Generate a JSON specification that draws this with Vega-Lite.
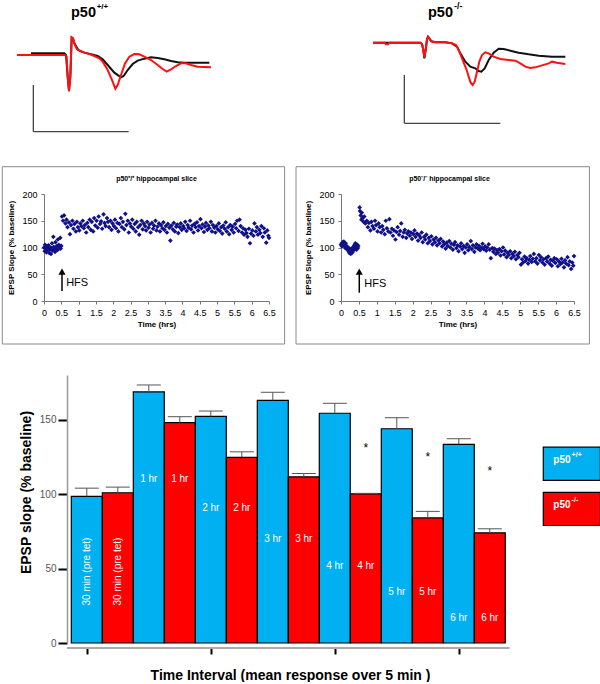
{
"$schema":"https://vega.github.io/schema/vega-lite/v6.json",
"background":"white",
"padding":{"left":1,"top":0,"right":0,"bottom":0},
"config":{"font":"Liberation Sans","view":{"stroke":null},"axis":{"grid":false,"labelFont":"Liberation Sans","titleFont":"Liberation Sans","titleColor":"black","labelOverlap":false},"title":{"font":"Liberation Sans"},"text":{"font":"Liberation Sans"}},
"datasets":{
"traceL":[
{"c":"k","t":90,"v":-160},{"c":"k","t":190,"v":-160},{"c":"k","t":195,"v":-165},{"c":"k","t":200,"v":-230},{"c":"k","t":204,"v":-272},{"c":"k","t":208,"v":-230},{"c":"k","t":212,"v":-112},{"c":"k","t":216,"v":-115},{"c":"k","t":220,"v":-130},{"c":"k","t":232,"v":-150},{"c":"k","t":250,"v":-158},{"c":"k","t":270,"v":-163},{"c":"k","t":290,"v":-168},{"c":"k","t":305,"v":-178},{"c":"k","t":320,"v":-195},{"c":"k","t":340,"v":-218},{"c":"k","t":360,"v":-232},{"c":"k","t":368,"v":-228},{"c":"k","t":380,"v":-210},{"c":"k","t":395,"v":-192},{"c":"k","t":410,"v":-182},{"c":"k","t":430,"v":-176},{"c":"k","t":450,"v":-172},{"c":"k","t":470,"v":-174},{"c":"k","t":490,"v":-178},{"c":"k","t":510,"v":-183},{"c":"k","t":530,"v":-187},{"c":"k","t":550,"v":-188},{"c":"k","t":590,"v":-188},{"c":"k","t":625,"v":-188},
{"c":"r","t":48,"v":-165},{"c":"r","t":192,"v":-165},{"c":"r","t":197,"v":-170},{"c":"r","t":200,"v":-230},{"c":"r","t":204,"v":-274},{"c":"r","t":208,"v":-230},{"c":"r","t":212,"v":-112},{"c":"r","t":216,"v":-115},{"c":"r","t":220,"v":-130},{"c":"r","t":228,"v":-148},{"c":"r","t":240,"v":-155},{"c":"r","t":260,"v":-160},{"c":"r","t":280,"v":-168},{"c":"r","t":295,"v":-175},{"c":"r","t":305,"v":-185},{"c":"r","t":320,"v":-210},{"c":"r","t":335,"v":-245},{"c":"r","t":343,"v":-266},{"c":"r","t":350,"v":-255},{"c":"r","t":360,"v":-225},{"c":"r","t":372,"v":-190},{"c":"r","t":385,"v":-170},{"c":"r","t":400,"v":-162},{"c":"r","t":415,"v":-163},{"c":"r","t":430,"v":-170},{"c":"r","t":450,"v":-180},{"c":"r","t":470,"v":-195},{"c":"r","t":485,"v":-207},{"c":"r","t":497,"v":-215},{"c":"r","t":510,"v":-208},{"c":"r","t":525,"v":-198},{"c":"r","t":540,"v":-190},{"c":"r","t":555,"v":-190},{"c":"r","t":570,"v":-195},{"c":"r","t":590,"v":-200},{"c":"r","t":630,"v":-202}],
"traceR":[
{"c":"k","t":213,"v":-128},{"c":"k","t":355,"v":-128},{"c":"k","t":360,"v":-132},{"c":"k","t":364,"v":-150},{"c":"k","t":367,"v":-175},{"c":"k","t":371,"v":-150},{"c":"k","t":375,"v":-118},{"c":"k","t":378,"v":-110},{"c":"k","t":382,"v":-115},{"c":"k","t":388,"v":-124},{"c":"k","t":400,"v":-127},{"c":"k","t":430,"v":-127},{"c":"k","t":450,"v":-130},{"c":"k","t":465,"v":-140},{"c":"k","t":475,"v":-160},{"c":"k","t":490,"v":-185},{"c":"k","t":505,"v":-200},{"c":"k","t":520,"v":-205},{"c":"k","t":530,"v":-213},{"c":"k","t":538,"v":-215},{"c":"k","t":548,"v":-205},{"c":"k","t":560,"v":-180},{"c":"k","t":575,"v":-158},{"c":"k","t":590,"v":-146},{"c":"k","t":605,"v":-147},{"c":"k","t":625,"v":-152},{"c":"k","t":650,"v":-158},{"c":"k","t":680,"v":-163},{"c":"k","t":710,"v":-167},{"c":"k","t":750,"v":-170},{"c":"k","t":790,"v":-170},
{"c":"r","t":213,"v":-128},{"c":"r","t":248,"v":-128},{"c":"r","t":252,"v":-133},{"c":"r","t":258,"v":-133},{"c":"r","t":262,"v":-128},{"c":"r","t":355,"v":-128},{"c":"r","t":360,"v":-132},{"c":"r","t":364,"v":-150},{"c":"r","t":367,"v":-172},{"c":"r","t":371,"v":-150},{"c":"r","t":375,"v":-118},{"c":"r","t":378,"v":-110},{"c":"r","t":382,"v":-115},{"c":"r","t":388,"v":-124},{"c":"r","t":400,"v":-127},{"c":"r","t":430,"v":-127},{"c":"r","t":450,"v":-130},{"c":"r","t":462,"v":-135},{"c":"r","t":470,"v":-150},{"c":"r","t":478,"v":-170},{"c":"r","t":486,"v":-190},{"c":"r","t":494,"v":-210},{"c":"r","t":500,"v":-230},{"c":"r","t":506,"v":-248},{"c":"r","t":512,"v":-255},{"c":"r","t":518,"v":-245},{"c":"r","t":524,"v":-220},{"c":"r","t":532,"v":-185},{"c":"r","t":540,"v":-165},{"c":"r","t":550,"v":-157},{"c":"r","t":560,"v":-160},{"c":"r","t":575,"v":-170},{"c":"r","t":595,"v":-177},{"c":"r","t":620,"v":-180},{"c":"r","t":640,"v":-182},{"c":"r","t":655,"v":-190},{"c":"r","t":670,"v":-200},{"c":"r","t":685,"v":-204},{"c":"r","t":700,"v":-202},{"c":"r","t":720,"v":-196},{"c":"r","t":740,"v":-190},{"c":"r","t":750,"v":-185},{"c":"r","t":765,"v":-188},{"c":"r","t":790,"v":-192}],
"wt":[
{"t":0,"v":100},{"t":0.02,"v":93},{"t":0.03,"v":105},{"t":0.05,"v":97},{"t":0.07,"v":91},{"t":0.08,"v":102},{"t":0.1,"v":95},{"t":0.12,"v":98},{"t":0.13,"v":104},{"t":0.15,"v":90},{"t":0.17,"v":96},{"t":0.18,"v":100},{"t":0.2,"v":88},{"t":0.22,"v":99},{"t":0.23,"v":108},{"t":0.25,"v":94},{"t":0.27,"v":120},{"t":0.28,"v":101},{"t":0.3,"v":96},{"t":0.32,"v":92},{"t":0.33,"v":110},{"t":0.35,"v":99},{"t":0.37,"v":103},{"t":0.38,"v":95},{"t":0.4,"v":115},{"t":0.42,"v":97},{"t":0.43,"v":105},{"t":0.45,"v":100},{"t":0.47,"v":118},{"t":0.48,"v":98},{"t":0.5,"v":103},
{"t":0.52,"v":158},{"t":0.55,"v":150},{"t":0.58,"v":160},{"t":0.62,"v":145},{"t":0.65,"v":152},{"t":0.68,"v":138},{"t":0.72,"v":147},{"t":0.75,"v":125},{"t":0.78,"v":142},{"t":0.82,"v":150},{"t":0.85,"v":135},{"t":0.88,"v":144},{"t":0.92,"v":130},{"t":0.95,"v":148},{"t":0.98,"v":138},
{"t":1.02,"v":132},{"t":1.05,"v":145},{"t":1.08,"v":140},{"t":1.12,"v":150},{"t":1.15,"v":136},{"t":1.18,"v":142},{"t":1.22,"v":128},{"t":1.25,"v":146},{"t":1.28,"v":138},{"t":1.32,"v":152},{"t":1.35,"v":133},{"t":1.38,"v":148},{"t":1.42,"v":130},{"t":1.45,"v":155},{"t":1.48,"v":141},{"t":1.52,"v":150},{"t":1.55,"v":137},{"t":1.58,"v":158},{"t":1.62,"v":144},{"t":1.65,"v":149},{"t":1.68,"v":135},{"t":1.72,"v":162},{"t":1.75,"v":146},{"t":1.78,"v":140},{"t":1.82,"v":155},{"t":1.85,"v":148},{"t":1.88,"v":138},{"t":1.92,"v":150},{"t":1.95,"v":133},{"t":1.98,"v":145},
{"t":2.02,"v":140},{"t":2.05,"v":152},{"t":2.08,"v":136},{"t":2.12,"v":146},{"t":2.15,"v":130},{"t":2.18,"v":144},{"t":2.22,"v":155},{"t":2.25,"v":138},{"t":2.28,"v":148},{"t":2.32,"v":134},{"t":2.35,"v":163},{"t":2.38,"v":142},{"t":2.42,"v":150},{"t":2.45,"v":128},{"t":2.48,"v":145},{"t":2.52,"v":139},{"t":2.55,"v":152},{"t":2.58,"v":135},{"t":2.62,"v":144},{"t":2.65,"v":130},{"t":2.68,"v":148},{"t":2.72,"v":138},{"t":2.75,"v":124},{"t":2.78,"v":142},{"t":2.82,"v":150},{"t":2.85,"v":134},{"t":2.88,"v":145},{"t":2.92,"v":140},{"t":2.95,"v":132},{"t":2.98,"v":148},
{"t":3.02,"v":137},{"t":3.05,"v":143},{"t":3.08,"v":128},{"t":3.12,"v":146},{"t":3.15,"v":135},{"t":3.18,"v":141},{"t":3.22,"v":150},{"t":3.25,"v":132},{"t":3.28,"v":139},{"t":3.32,"v":145},{"t":3.35,"v":130},{"t":3.38,"v":142},{"t":3.42,"v":136},{"t":3.45,"v":147},{"t":3.48,"v":133},{"t":3.52,"v":140},{"t":3.55,"v":128},{"t":3.58,"v":144},{"t":3.62,"v":137},{"t":3.65,"v":113},{"t":3.68,"v":141},{"t":3.72,"v":134},{"t":3.75,"v":146},{"t":3.78,"v":130},{"t":3.82,"v":139},{"t":3.85,"v":143},{"t":3.88,"v":127},{"t":3.92,"v":138},{"t":3.95,"v":145},{"t":3.98,"v":133},
{"t":4.02,"v":140},{"t":4.05,"v":136},{"t":4.08,"v":148},{"t":4.12,"v":131},{"t":4.15,"v":142},{"t":4.18,"v":137},{"t":4.22,"v":150},{"t":4.25,"v":134},{"t":4.28,"v":141},{"t":4.32,"v":128},{"t":4.35,"v":144},{"t":4.38,"v":138},{"t":4.42,"v":147},{"t":4.45,"v":132},{"t":4.48,"v":140},{"t":4.52,"v":153},{"t":4.55,"v":136},{"t":4.58,"v":143},{"t":4.62,"v":129},{"t":4.65,"v":139},{"t":4.68,"v":146},{"t":4.72,"v":133},{"t":4.75,"v":141},{"t":4.78,"v":136},{"t":4.82,"v":148},{"t":4.85,"v":130},{"t":4.88,"v":142},{"t":4.92,"v":137},{"t":4.95,"v":128},{"t":4.98,"v":140},
{"t":5.02,"v":134},{"t":5.05,"v":145},{"t":5.08,"v":131},{"t":5.12,"v":138},{"t":5.15,"v":126},{"t":5.18,"v":141},{"t":5.22,"v":135},{"t":5.25,"v":147},{"t":5.28,"v":130},{"t":5.32,"v":138},{"t":5.35,"v":125},{"t":5.38,"v":142},{"t":5.42,"v":133},{"t":5.45,"v":139},{"t":5.48,"v":128},{"t":5.52,"v":144},{"t":5.55,"v":136},{"t":5.58,"v":150},{"t":5.62,"v":131},{"t":5.65,"v":152},{"t":5.68,"v":140},{"t":5.72,"v":128},{"t":5.75,"v":136},{"t":5.78,"v":124},{"t":5.82,"v":133},{"t":5.85,"v":127},{"t":5.88,"v":120},{"t":5.92,"v":135},{"t":5.95,"v":108},{"t":5.98,"v":126},
{"t":6.02,"v":132},{"t":6.05,"v":122},{"t":6.08,"v":145},{"t":6.12,"v":130},{"t":6.15,"v":138},{"t":6.18,"v":124},{"t":6.22,"v":133},{"t":6.25,"v":127},{"t":6.28,"v":140},{"t":6.32,"v":120},{"t":6.35,"v":136},{"t":6.38,"v":128},{"t":6.42,"v":109},{"t":6.45,"v":132},{"t":6.48,"v":122},{"t":6.5,"v":118}],
"ko":[
{"t":0,"v":105},{"t":0.02,"v":108},{"t":0.03,"v":102},{"t":0.05,"v":110},{"t":0.07,"v":104},{"t":0.08,"v":111},{"t":0.1,"v":106},{"t":0.12,"v":99},{"t":0.13,"v":108},{"t":0.15,"v":103},{"t":0.17,"v":97},{"t":0.18,"v":101},{"t":0.2,"v":94},{"t":0.22,"v":99},{"t":0.23,"v":90},{"t":0.25,"v":96},{"t":0.27,"v":88},{"t":0.28,"v":93},{"t":0.3,"v":98},{"t":0.32,"v":91},{"t":0.33,"v":100},{"t":0.35,"v":95},{"t":0.37,"v":104},{"t":0.38,"v":97},{"t":0.4,"v":108},{"t":0.42,"v":101},{"t":0.43,"v":96},{"t":0.45,"v":105},{"t":0.47,"v":99},{"t":0.48,"v":103},
{"t":0.52,"v":175},{"t":0.53,"v":168},{"t":0.55,"v":160},{"t":0.57,"v":152},{"t":0.58,"v":165},{"t":0.6,"v":155},{"t":0.63,"v":148},{"t":0.65,"v":158},{"t":0.68,"v":145},{"t":0.72,"v":150},{"t":0.75,"v":138},{"t":0.78,"v":146},{"t":0.82,"v":132},{"t":0.85,"v":148},{"t":0.88,"v":140},{"t":0.92,"v":135},{"t":0.95,"v":150},{"t":0.98,"v":142},
{"t":1.02,"v":130},{"t":1.05,"v":145},{"t":1.08,"v":138},{"t":1.12,"v":128},{"t":1.15,"v":140},{"t":1.18,"v":133},{"t":1.22,"v":125},{"t":1.25,"v":150},{"t":1.28,"v":136},{"t":1.32,"v":130},{"t":1.35,"v":153},{"t":1.38,"v":128},{"t":1.42,"v":135},{"t":1.45,"v":122},{"t":1.48,"v":132},{"t":1.52,"v":115},{"t":1.55,"v":129},{"t":1.58,"v":138},{"t":1.62,"v":124},{"t":1.65,"v":131},{"t":1.68,"v":145},{"t":1.72,"v":120},{"t":1.75,"v":128},{"t":1.78,"v":133},{"t":1.82,"v":118},{"t":1.85,"v":126},{"t":1.88,"v":130},{"t":1.92,"v":122},{"t":1.95,"v":128},{"t":1.98,"v":116},
{"t":2.02,"v":125},{"t":2.05,"v":132},{"t":2.08,"v":120},{"t":2.12,"v":126},{"t":2.15,"v":113},{"t":2.18,"v":123},{"t":2.22,"v":118},{"t":2.25,"v":128},{"t":2.28,"v":110},{"t":2.32,"v":120},{"t":2.35,"v":115},{"t":2.38,"v":124},{"t":2.42,"v":108},{"t":2.45,"v":118},{"t":2.48,"v":112},{"t":2.52,"v":121},{"t":2.55,"v":106},{"t":2.58,"v":115},{"t":2.62,"v":110},{"t":2.65,"v":118},{"t":2.68,"v":104},{"t":2.72,"v":113},{"t":2.75,"v":108},{"t":2.78,"v":116},{"t":2.82,"v":102},{"t":2.85,"v":111},{"t":2.88,"v":106},{"t":2.92,"v":98},{"t":2.95,"v":109},{"t":2.98,"v":103},
{"t":3.02,"v":112},{"t":3.05,"v":100},{"t":3.08,"v":107},{"t":3.12,"v":96},{"t":3.15,"v":105},{"t":3.18,"v":110},{"t":3.22,"v":99},{"t":3.25,"v":104},{"t":3.28,"v":93},{"t":3.32,"v":102},{"t":3.35,"v":108},{"t":3.38,"v":97},{"t":3.42,"v":103},{"t":3.45,"v":90},{"t":3.48,"v":100},{"t":3.52,"v":106},{"t":3.55,"v":95},{"t":3.58,"v":101},{"t":3.62,"v":112},{"t":3.65,"v":97},{"t":3.68,"v":104},{"t":3.72,"v":92},{"t":3.75,"v":100},{"t":3.78,"v":106},{"t":3.82,"v":98},{"t":3.85,"v":103},{"t":3.88,"v":95},{"t":3.92,"v":100},{"t":3.95,"v":107},{"t":3.98,"v":97},
{"t":4.02,"v":102},{"t":4.05,"v":94},{"t":4.08,"v":100},{"t":4.12,"v":106},{"t":4.15,"v":96},{"t":4.18,"v":80},{"t":4.22,"v":99},{"t":4.25,"v":92},{"t":4.28,"v":98},{"t":4.32,"v":88},{"t":4.35,"v":95},{"t":4.38,"v":90},{"t":4.42,"v":97},{"t":4.45,"v":85},{"t":4.48,"v":93},{"t":4.52,"v":100},{"t":4.55,"v":87},{"t":4.58,"v":94},{"t":4.62,"v":82},{"t":4.65,"v":90},{"t":4.68,"v":86},{"t":4.72,"v":93},{"t":4.75,"v":80},{"t":4.78,"v":88},{"t":4.82,"v":84},{"t":4.85,"v":92},{"t":4.88,"v":78},{"t":4.92,"v":86},{"t":4.95,"v":82},{"t":4.98,"v":90},
{"t":5.02,"v":68},{"t":5.05,"v":78},{"t":5.08,"v":72},{"t":5.12,"v":83},{"t":5.15,"v":75},{"t":5.18,"v":80},{"t":5.22,"v":70},{"t":5.25,"v":77},{"t":5.28,"v":84},{"t":5.32,"v":73},{"t":5.35,"v":79},{"t":5.38,"v":88},{"t":5.42,"v":74},{"t":5.45,"v":80},{"t":5.48,"v":70},{"t":5.52,"v":86},{"t":5.55,"v":76},{"t":5.58,"v":82},{"t":5.62,"v":72},{"t":5.65,"v":78},{"t":5.68,"v":68},{"t":5.72,"v":80},{"t":5.75,"v":74},{"t":5.78,"v":83},{"t":5.82,"v":70},{"t":5.85,"v":77},{"t":5.88,"v":66},{"t":5.92,"v":75},{"t":5.95,"v":80},{"t":5.98,"v":71},
{"t":6.02,"v":78},{"t":6.05,"v":65},{"t":6.08,"v":74},{"t":6.12,"v":69},{"t":6.15,"v":79},{"t":6.18,"v":72},{"t":6.22,"v":63},{"t":6.25,"v":76},{"t":6.28,"v":70},{"t":6.32,"v":82},{"t":6.35,"v":67},{"t":6.38,"v":74},{"t":6.42,"v":60},{"t":6.45,"v":72},{"t":6.48,"v":66},{"t":6.5,"v":84}],
"bars":[
{"slot":0,"interval":"30 min (pre tet)","genotype":"p50+/+","mean":98.5,"upper":104,"labelAt":48},
{"slot":1,"interval":"30 min (pre tet)","genotype":"p50-/-","mean":100.9,"upper":104.7,"labelAt":48},
{"slot":2,"interval":"1 hr","genotype":"p50+/+","mean":168.6,"upper":173.3,"labelAt":110},
{"slot":3,"interval":"1 hr","genotype":"p50-/-","mean":148,"upper":152,"labelAt":110},
{"slot":4,"interval":"2 hr","genotype":"p50+/+","mean":152.2,"upper":155.8,"labelAt":91},
{"slot":5,"interval":"2 hr","genotype":"p50-/-","mean":124.7,"upper":128.4,"labelAt":91},
{"slot":6,"interval":"3 hr","genotype":"p50+/+","mean":163,"upper":168.4,"labelAt":70},
{"slot":7,"interval":"3 hr","genotype":"p50-/-","mean":111.6,"upper":113.9,"labelAt":70},
{"slot":8,"interval":"4 hr","genotype":"p50+/+","mean":154.3,"upper":161,"labelAt":51.6},
{"slot":9,"interval":"4 hr","genotype":"p50-/-","mean":100.2,"upper":100.5,"labelAt":51.6,"star":131},
{"slot":10,"interval":"5 hr","genotype":"p50+/+","mean":143.9,"upper":151.3,"labelAt":34},
{"slot":11,"interval":"5 hr","genotype":"p50-/-","mean":84,"upper":88.4,"labelAt":34,"star":125},
{"slot":12,"interval":"6 hr","genotype":"p50+/+","mean":133.4,"upper":137.2,"labelAt":17},
{"slot":13,"interval":"6 hr","genotype":"p50-/-","mean":74,"upper":76.7,"labelAt":17,"star":115.5}],
"legend":[{"genotype":"p50+/+","base":"p50","sup":"+/+"},{"genotype":"p50-/-","base":"p50","sup":"-/-"}]
},
"spacing":30,
"vconcat":[
{"hconcat":[
 {"width":170,"height":136,
  "encoding":{"x":{"field":"t","type":"quantitative","scale":{"domain":[129,639],"nice":false,"zero":false},"axis":null},"y":{"field":"v","type":"quantitative","scale":{"domain":[-408,0],"nice":false,"zero":false},"axis":null}},
  "layer":[
   {"data":{"name":"traceL"},"transform":[{"filter":"datum.c === 'k'"}],"mark":{"type":"line","color":"#111111","strokeWidth":2}},
   {"data":{"name":"traceL"},"transform":[{"filter":"datum.c === 'r'"}],"mark":{"type":"line","color":"#ff1010","strokeWidth":2}},
   {"data":{"values":[{"t":97,"v":-255,"t2":97,"v2":-395},{"t":97,"v":-395,"t2":383,"v2":-395}]},"mark":{"type":"rule","color":"#444444","strokeWidth":1.3},"encoding":{"x2":{"field":"t2"},"y2":{"field":"v2"}}},
   {"data":{"values":[{"t":210,"v":-50,"label":"p50"}]},"mark":{"type":"text","fontSize":14.5,"fontWeight":"bold","align":"left","baseline":"alphabetic","color":"black"},"encoding":{"text":{"field":"label"}}},
   {"data":{"values":[{"t":287,"v":-27,"label":"+/+"}]},"mark":{"type":"text","fontSize":8,"fontWeight":"bold","align":"left","baseline":"alphabetic","color":"black"},"encoding":{"text":{"field":"label"}}}
  ]},
 {"width":290,"height":136,
  "encoding":{"x":{"field":"t","type":"quantitative","scale":{"domain":[0,870],"nice":false,"zero":false},"axis":null},"y":{"field":"v","type":"quantitative","scale":{"domain":[-408,0],"nice":false,"zero":false},"axis":null}},
  "layer":[
   {"data":{"name":"traceR"},"transform":[{"filter":"datum.c === 'k'"}],"mark":{"type":"line","color":"#111111","strokeWidth":2}},
   {"data":{"name":"traceR"},"transform":[{"filter":"datum.c === 'r'"}],"mark":{"type":"line","color":"#ff1010","strokeWidth":2}},
   {"data":{"values":[{"t":307,"v":-225,"t2":307,"v2":-370},{"t":307,"v":-370,"t2":595,"v2":-370}]},"mark":{"type":"rule","color":"#444444","strokeWidth":1.3},"encoding":{"x2":{"field":"t2"},"y2":{"field":"v2"}}},
   {"data":{"values":[{"t":378,"v":-50,"label":"p50"}]},"mark":{"type":"text","fontSize":14.5,"fontWeight":"bold","align":"left","baseline":"alphabetic","color":"black"},"encoding":{"text":{"field":"label"}}},
   {"data":{"values":[{"t":456,"v":-27,"label":"-/-"}]},"mark":{"type":"text","fontSize":9,"fontWeight":"bold","align":"left","baseline":"alphabetic","color":"black"},"encoding":{"text":{"field":"label"}}}
  ]}
],"spacing":87},
{"hconcat":[
 {"width":225,"height":107,
  "title":{"text":"p50⁺/⁺ hippocampal slice","fontSize":7,"fontWeight":"bold","offset":-16,"color":"#000000"},
  "encoding":{
    "x":{"field":"t","type":"quantitative","scale":{"domain":[0,6.5],"nice":false,"zero":false},
       "axis":{"values":[0,0.5,1,1.5,2,2.5,3,3.5,4,4.5,5,5.5,6,6.5],"format":"~g","labelFontSize":9,"labelColor":"black","labelPadding":4,"labelFlush":false,"labelOverlap":false,"tickSize":3,"tickColor":"#777777","domainColor":"#777777","title":"Time (hrs)","titleFontSize":8,"titleFontWeight":"bold","titlePadding":3}},
    "y":{"field":"v","type":"quantitative","scale":{"domain":[0,200],"nice":false,"zero":false},
       "axis":{"values":[0,50,100,150,200],"labelFontSize":9,"labelColor":"black","labelPadding":4,"labelOverlap":false,"tickSize":3,"tickColor":"#777777","domainColor":"#777777","title":"EPSP Slope (% baseline)","titleFontSize":8,"titleFontWeight":"bold","titlePadding":6}}},
  "layer":[
   {"data":{"name":"wt"},"mark":{"type":"point","shape":"diamond","filled":true,"size":22,"color":"#10108a","opacity":1}},
   {"data":{"values":[{"t":-1.205,"t2":6.951,"v":251,"v2":-80.4}]},"mark":{"type":"rect","fill":"white","fillOpacity":0,"stroke":"#8a8a8a","strokeWidth":1},"encoding":{"x2":{"field":"t2"},"y2":{"field":"v2"}}},
   {"data":{"values":[{"t":0.52,"v":18.7,"v2":52}]},"mark":{"type":"rule","color":"black","strokeWidth":1.5},"encoding":{"y2":{"field":"v2"}}},
   {"data":{"values":[{"t":0.52,"v":55}]},"mark":{"type":"point","shape":"triangle-up","filled":true,"size":50,"color":"black","opacity":1}},
   {"data":{"values":[{"t":0.64,"v":33.5,"label":"HFS"}]},"mark":{"type":"text","fontSize":11,"align":"left","baseline":"middle","color":"black"},"encoding":{"text":{"field":"label"}}}
  ]},
 {"width":233,"height":107,
  "title":{"text":"p50⁻/⁻ hippocampal slice","fontSize":7,"fontWeight":"bold","offset":-16,"color":"#000000","dx":-8},
  "encoding":{
    "x":{"field":"t","type":"quantitative","scale":{"domain":[0,6.5],"nice":false,"zero":false},
       "axis":{"values":[0,0.5,1,1.5,2,2.5,3,3.5,4,4.5,5,5.5,6,6.5],"format":"~g","labelFontSize":9,"labelColor":"black","labelPadding":4,"labelFlush":false,"labelOverlap":false,"tickSize":3,"tickColor":"#777777","domainColor":"#777777","title":"Time (hrs)","titleFontSize":8,"titleFontWeight":"bold","titlePadding":3}},
    "y":{"field":"v","type":"quantitative","scale":{"domain":[0,200],"nice":false,"zero":false},
       "axis":{"values":[0,50,100,150,200],"labelFontSize":9,"labelColor":"black","labelPadding":4,"labelOverlap":false,"tickSize":3,"tickColor":"#777777","domainColor":"#777777","title":"EPSP Slope (% baseline)","titleFontSize":8,"titleFontWeight":"bold","titlePadding":6}}},
  "layer":[
   {"data":{"name":"ko"},"mark":{"type":"point","shape":"diamond","filled":true,"size":22,"color":"#10108a","opacity":1}},
   {"data":{"values":[{"t":-1.255,"t2":6.93,"v":251,"v2":-80.4}]},"mark":{"type":"rect","fill":"white","fillOpacity":0,"stroke":"#8a8a8a","strokeWidth":1},"encoding":{"x2":{"field":"t2"},"y2":{"field":"v2"}}},
   {"data":{"values":[{"t":0.51,"v":15.5,"v2":52}]},"mark":{"type":"rule","color":"black","strokeWidth":1.5},"encoding":{"y2":{"field":"v2"}}},
   {"data":{"values":[{"t":0.51,"v":55}]},"mark":{"type":"point","shape":"triangle-up","filled":true,"size":50,"color":"black","opacity":1}},
   {"data":{"values":[{"t":0.65,"v":31,"label":"HFS"}]},"mark":{"type":"text","fontSize":11,"align":"left","baseline":"middle","color":"black"},"encoding":{"text":{"field":"label"}}}
  ]}
],"spacing":9},
{"width":466,"height":268,
 "layer":[
  {"encoding":{
     "x":{"field":"slot","type":"quantitative","scale":{"domain":[-1.381,13.652],"nice":false,"zero":false,"padding":0},
       "axis":{"values":[0,4,8,12],"labels":false,"ticks":true,"tickColor":"black","tickWidth":2,"tickSize":6,"domain":false,"offset":5,"title":"Time Interval (mean response over 5 min )","titleFontSize":14,"titleFontWeight":"bold","titlePadding":13,"titleX":246}},
     "y":{"field":"mean","type":"quantitative","scale":{"domain":[0,180],"nice":false,"zero":false},
       "axis":{"values":[0,50,100,150],"offset":-23,"title":"EPSP slope (% baseline)","titleFontSize":14,"titleFontWeight":"bold","titlePadding":6,"titleY":117,"labelFontSize":10,"labelColor":"#555555","labelPadding":2,"tickColor":"black","tickWidth":2,"tickSize":9,"domainColor":"#999999","domainWidth":1.5}}},
   "layer":[
    {"data":{"name":"bars"},"mark":{"type":"bar","width":31,"stroke":"black","strokeWidth":1.2},
     "encoding":{"color":{"field":"genotype","type":"nominal","scale":{"domain":["p50+/+","p50-/-"],"range":["#00b0f0","#ff0000"]},"legend":null}}},
    {"data":{"name":"bars"},"mark":{"type":"rule","color":"#555555","strokeWidth":1},"encoding":{"y2":{"field":"upper"}}},
    {"data":{"name":"bars"},"mark":{"type":"tick","orient":"horizontal","size":24,"thickness":1,"color":"#555555","opacity":1},
     "encoding":{"y":{"field":"upper","type":"quantitative"}}},
    {"data":{"name":"bars"},"mark":{"type":"text","color":"white","fontSize":10,"align":"center","baseline":"middle"},
     "encoding":{"y":{"field":"labelAt","type":"quantitative"},"text":{"field":"interval"},
       "angle":{"condition":{"test":"datum.interval === '30 min (pre tet)'","value":270},"value":0}}},
    {"data":{"name":"bars"},"transform":[{"filter":"isValid(datum.star)"}],"mark":{"type":"text","color":"black","fontSize":12,"align":"center","baseline":"middle","text":"*"},
     "encoding":{"y":{"field":"star","type":"quantitative"}}},
    {"data":{"values":[{"slot":-0.639,"slotEnd":13.64,"mean":-3.4}]},"mark":{"type":"rule","color":"#aaaaaa","strokeWidth":2},"encoding":{"x2":{"field":"slotEnd"}}}
   ]},
  {"data":{"name":"legend"},
   "encoding":{"y":{"field":"genotype","type":"nominal","sort":["p50+/+","p50-/-"],"scale":{"domain":["p50+/+","p50-/-"],"range":[72.2,150.5],"paddingInner":0.265,"paddingOuter":0},"axis":null}},
   "layer":[
    {"mark":{"type":"rect","stroke":"black","strokeWidth":1.2},
     "encoding":{"x":{"datum":0,"type":"quantitative","scale":{"domain":[0,57],"range":[499.3,556.3],"nice":false,"zero":false},"axis":null},"x2":{"datum":57},
       "color":{"field":"genotype","type":"nominal","scale":{"domain":["p50+/+","p50-/-"],"range":["#00b0f0","#ff0000"]},"legend":null}}},
    {"mark":{"type":"text","color":"white","fontSize":10,"fontWeight":"bold","align":"left","baseline":"alphabetic","dy":-1},
     "encoding":{"x":{"datum":10,"type":"quantitative","scale":{"domain":[0,57],"range":[499.3,556.3],"nice":false,"zero":false},"axis":null},"text":{"field":"base"}}},
    {"mark":{"type":"text","color":"white","fontSize":7,"fontWeight":"bold","align":"left","baseline":"alphabetic","dy":-6.5},
     "encoding":{"x":{"datum":28.3,"type":"quantitative","scale":{"domain":[0,57],"range":[499.3,556.3],"nice":false,"zero":false},"axis":null},"text":{"field":"sup"}}}
   ]}
 ],
 "resolve":{"scale":{"x":"independent","y":"independent"}}
}
]
}
